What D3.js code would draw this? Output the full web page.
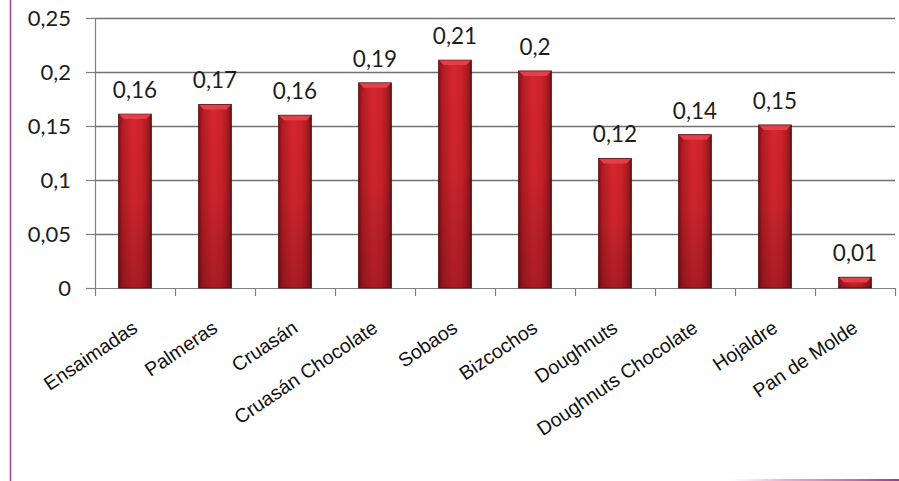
<!DOCTYPE html>
<html><head><meta charset="utf-8">
<script src="https://cdn.jsdelivr.net/npm/d3@7"></script>
<style>body{margin:0;background:#fff;} svg{display:block}</style>
</head><body><svg id="c" width="899" height="481"></svg>
<script>
const categories = ["Ensaimadas","Palmeras","Cruasán","Cruasán Chocolate","Sobaos","Bizcochos","Doughnuts","Doughnuts Chocolate","Hojaldre","Pan de Molde"];
const values = [0.161,0.170,0.160,0.190,0.211,0.201,0.120,0.142,0.151,0.010];
const valueLabels = ["0,16","0,17","0,16","0,19","0,21","0,2","0,12","0,14","0,15","0,01"];
const yTicks = [0,0.05,0.1,0.15,0.2,0.25];
const yTickLabels = ["0","0,05","0,1","0,15","0,2","0,25"];

const svg = d3.select("#c");
const W = 899, H = 481;
const plot = {left:95, right:895, top:18, bottom:288};

const x = d3.scaleBand().domain(categories).range([plot.left, plot.right]).paddingInner(0.59).paddingOuter(0.295);
const y = d3.scaleLinear().domain([0,0.25]).range([plot.bottom, plot.top]);

const defs = svg.append("defs");
const g1 = defs.append("linearGradient").attr("id","barH").attr("x1","0").attr("x2","1").attr("y1","0").attr("y2","0");
[[0,"#7a1016"],[0.12,"#b41c25"],[0.45,"#d8262f"],[0.7,"#cc222b"],[0.9,"#a41a21"],[1,"#6e0e13"]].forEach(s=>g1.append("stop").attr("offset",s[0]).attr("stop-color",s[1]));
const g2 = defs.append("linearGradient").attr("id","barV").attr("x1","0").attr("x2","0").attr("y1","0").attr("y2","1");
[[0,"#000",0],[0.5,"#000",0.05],[1,"#2a0000",0.25]].forEach(s=>g2.append("stop").attr("offset",s[0]).attr("stop-color",s[1]).attr("stop-opacity",s[2]));

// border decorations
svg.append("line").attr("x1",10.5).attr("x2",10.5).attr("y1",0).attr("y2",H).attr("stroke","#ad459c").attr("stroke-width",1.6);
const g3 = defs.append("linearGradient").attr("id","bot").attr("x1","0").attr("x2","1");
[[0,"#f2c6e6",0],[0.3,"#e7a0d2",0.8],[1,"#9b3c8c",1]].forEach(s=>g3.append("stop").attr("offset",s[0]).attr("stop-color",s[1]).attr("stop-opacity",s[2]));
svg.append("rect").attr("x",728).attr("y",479).attr("width",171).attr("height",2).attr("fill","url(#bot)");

// gridlines + y axis
const yAxis = d3.axisLeft(y).tickValues(yTicks).tickSize(9).tickFormat((d,i)=>yTickLabels[i]);
const ga = svg.append("g").attr("transform",`translate(${plot.left},0)`).call(yAxis);
ga.select(".domain").attr("stroke","#808080").attr("stroke-width",1.2);
ga.selectAll(".tick line").attr("stroke","#808080").attr("stroke-width",1.2);
ga.selectAll(".tick text").attr("x",-24).attr("font-family","Lato, Carlito, sans-serif").attr("font-size",22).attr("fill","#1e1e1e");

const grid = d3.axisLeft(y).tickValues(yTicks.slice(1)).tickSize(-(plot.right-plot.left)).tickFormat("");
const gg = svg.append("g").attr("transform",`translate(${plot.left},0)`).call(grid);
gg.select(".domain").remove();
gg.selectAll(".tick line").attr("stroke","#707070").attr("stroke-width",1.3);

// x axis
const xb = d3.scaleLinear().domain([0,categories.length]).range([plot.left, plot.right]);
const xAxis = d3.axisBottom(xb).tickValues(d3.range(categories.length+1)).tickSize(8).tickSizeOuter(0).tickFormat("");
const gx = svg.append("g").attr("transform",`translate(0,${plot.bottom})`).call(xAxis);
gx.select(".domain").attr("stroke","#808080").attr("stroke-width",1.2);
gx.selectAll(".tick line").attr("stroke","#808080").attr("stroke-width",1.2);

// bars
const bars = svg.append("g").selectAll("g").data(values).join("g");
bars.append("rect")
  .attr("x",(d,i)=>x(categories[i])).attr("y",d=>y(d))
  .attr("width",x.bandwidth()).attr("height",d=>y(0)-y(d))
  .attr("fill","url(#barH)").attr("stroke","#5e0b10").attr("stroke-width",0.8);
bars.append("rect")
  .attr("x",(d,i)=>x(categories[i])).attr("y",d=>y(d))
  .attr("width",x.bandwidth()).attr("height",d=>y(0)-y(d))
  .attr("fill","url(#barV)");
const bev = 5;
bars.append("path")
  .attr("d",(d,i)=>{const x0=x(categories[i]), x1=x0+x.bandwidth(), t=y(d);
     return `M${x0+0.5},${t+0.5}L${x1-0.5},${t+0.5}L${x1-bev},${t+bev}L${x0+bev},${t+bev}Z`;})
  .attr("fill","#e4404a");
bars.append("path")
  .attr("d",(d,i)=>{const x0=x(categories[i]), t=y(d);
     return `M${x0+0.5},${t+0.5}L${x0+bev},${t+bev}L${x0+bev},${t+bev+2}L${x0+0.5},${t+bev+4}Z`;})
  .attr("fill","#9a1820").attr("opacity",0.6);

// value labels
svg.append("g").selectAll("text").data(values).join("text")
  .attr("x",(d,i)=>x(categories[i])+x.bandwidth()/2)
  .attr("y",d=>y(d)-16)
  .attr("text-anchor","middle")
  .attr("font-family","Lato, Carlito, sans-serif").attr("font-size",22.5).attr("fill","#1e1e1e")
  .text((d,i)=>valueLabels[i]);

// category labels
svg.append("g").selectAll("text").data(categories).join("text")
  .attr("transform",d=>`translate(${x(d)+x.bandwidth()/2+4},331) rotate(-34)`)
  .attr("text-anchor","end")
  .attr("font-family","'Liberation Sans', Arial, sans-serif").attr("font-size",19.6).attr("fill","#111")
  .text(d=>d);
</script>
</body></html>
